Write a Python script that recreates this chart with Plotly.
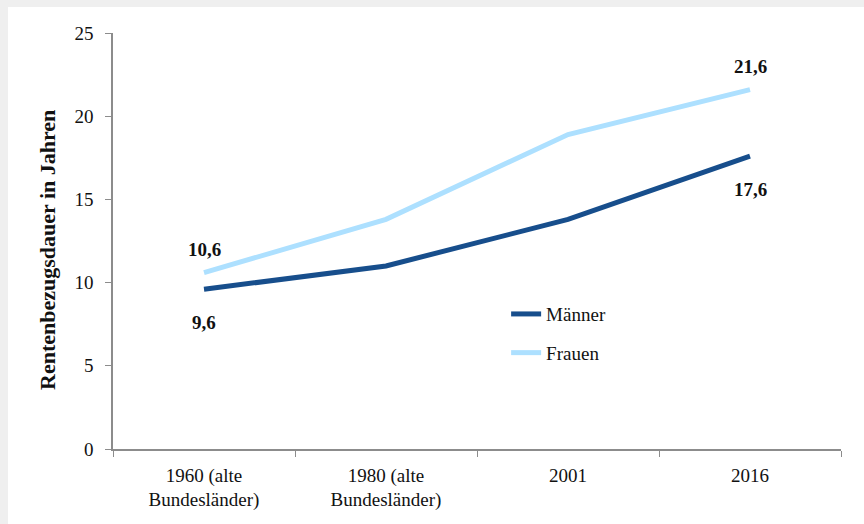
import plotly.graph_objects as go

# Durchschnittliche Rentenbezugsdauer nach Geschlecht
categories = ["1960 (alte<br>Bundesländer)", "1980 (alte<br>Bundesländer)", "2001", "2016"]
maenner = [9.6, 11.0, 13.8, 17.6]
frauen = [10.6, 13.8, 18.9, 21.6]
y_ticks = [0, 5, 10, 15, 20, 25]

DARK = "#174e8c"
LIGHT = "#ade0ff"
FONT = "Liberation Serif"
AXIS = "#8c8c8c"

# Plotbereich in Pixeln
W, H = 864, 524
L, R, T, B = 113, 23, 33, 75
PW, PH = W - L - R, H - T - B

fig = go.Figure()
fig.add_trace(go.Scatter(x=categories, y=maenner, mode="lines", name="Männer",
                         legendgroup="m", line=dict(color=DARK, width=5)))
fig.add_trace(go.Scatter(x=categories, y=frauen, mode="lines", name="Frauen",
                         legendgroup="f", line=dict(color=LIGHT, width=5)))

def fmt(v):
    return f"{v:.1f}".replace(".", ",")

# Werte am Anfang und Ende der Reihen
label_font = dict(family=FONT, size=19, color="#111111")
for idx in (0, len(categories) - 1):
    fig.add_annotation(x=idx, y=frauen[idx], text=f"<b>{fmt(frauen[idx])}</b>",
                       showarrow=False, yshift=23, font=label_font)
    fig.add_annotation(x=idx, y=maenner[idx], text=f"<b>{fmt(maenner[idx])}</b>",
                       showarrow=False, yshift=-33, font=label_font)

# Achsentitel der y-Achse
fig.add_annotation(xref="paper", yref="paper", x=(47 - L) / PW, y=(T + PH - 250) / PH,
                   xanchor="center", yanchor="middle",
                   text="<b>Rentenbezugsdauer in Jahren</b>", textangle=-90,
                   showarrow=False, font=dict(family=FONT, size=22, color="#111111"))

# weiße Fläche, oben und links bleibt ein grauer Rand
fig.add_shape(type="rect", xref="paper", yref="paper",
              x0=(8 - L) / PW, x1=(W - L) / PW,
              y0=(T + PH - H) / PH, y1=(T + PH - 7) / PH,
              fillcolor="white", line=dict(width=0), layer="below")

fig.update_layout(
    width=W, height=H,
    margin=dict(l=L, r=R, t=T, b=B),
    paper_bgcolor="#efefef",
    plot_bgcolor="white",
    font=dict(family=FONT, size=19, color="#111111"),
    showlegend=True,
    legend=dict(x=0.54, y=0.37, xanchor="left", yanchor="top",
                bgcolor="rgba(0,0,0,0)", font=dict(family=FONT, size=19),
                tracegroupgap=11, itemwidth=30),
    xaxis=dict(
        type="category",
        range=[-0.5, len(categories) - 0.5],
        showline=True, linecolor=AXIS, linewidth=1.5,
        ticks="outside", ticklen=6, tickcolor=AXIS, tickson="boundaries",
        showgrid=False, zeroline=False,
        ticklabelstandoff=8,
        tickfont=dict(family=FONT, size=19),
    ),
    yaxis=dict(
        range=[0, 25], tickvals=y_ticks,
        showline=True, linecolor=AXIS, linewidth=1.5,
        ticks="outside", ticklen=6, tickcolor=AXIS,
        showgrid=False, zeroline=False,
        ticklabelstandoff=8,
        tickfont=dict(family=FONT, size=19),
    ),
)

fig.write_html("out.html")
